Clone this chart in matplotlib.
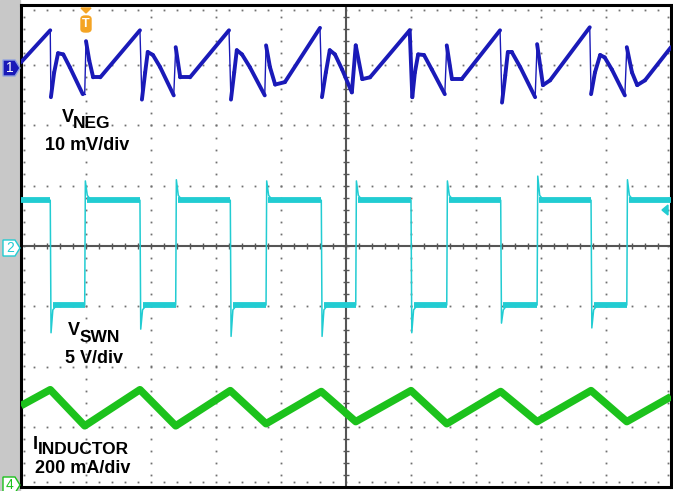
import numpy as np
import matplotlib
matplotlib.use("Agg")
import matplotlib.pyplot as plt
from matplotlib.collections import LineCollection
from matplotlib.patches import Polygon, Rectangle, FancyBboxPatch

# --- scope screen: time in divisions (10 across), 8 divisions vertical ---

# V_SWN switching edges (div)
FALL_T = [0.45, 1.83, 3.22, 4.62, 6.00, 7.38, 8.77]
RISE_T = [0.98, 2.38, 3.77, 5.15, 6.55, 7.94, 9.32]

# V_SWN levels (V), 5 V/div, ground marker at 0 div
SW_HIGH = 3.8
SW_LOW = -4.9
SW_OVER = [5.4, 5.5, 5.4, 5.4, 5.4, 5.8, 5.5]
SW_UNDER = [-7.2, -6.9, -7.5, -7.5, -7.2, -6.4, -6.8]

# inductor current (mA), 200 mA/div, ground marker at -4 div
IL_START = 270
IL_END = 300
IL_PEAK = [323, 323, 320, 317, 320, 317, 320]
IL_TROUGH = [203, 203, 210, 217, 210, 217, 217]

# V_NEG ripple (mV), 10 mV/div, ground marker at +3 div
VNEG_T = [0.00, 0.45, 0.46, 0.51, 0.57, 0.65, 0.75, 0.95, 0.98, 1.00, 1.05, 1.11, 1.22, 1.83,
          1.86, 1.91, 1.95, 2.03, 2.14, 2.35, 2.38, 2.45, 2.60, 3.20,
          3.23, 3.28, 3.32, 3.40, 3.52, 3.75, 3.77, 3.83, 3.91, 4.06, 4.60,
          4.63, 4.69, 4.75, 4.83, 4.94, 5.09, 5.15, 5.25, 5.37, 5.98,
          6.02, 6.06, 6.11, 6.20, 6.32, 6.52, 6.55, 6.63, 6.78, 7.37,
          7.40, 7.45, 7.49, 7.55, 7.68, 7.91, 7.94, 8.03, 8.14, 8.75,
          8.77, 8.83, 8.91, 8.98, 9.09, 9.29, 9.32, 9.40, 9.48, 9.60, 10.00]
VNEG_MV = [0.5, 5.8, -5.3, -1.2, 2.0, 1.8, -0.3, -4.8, -4.8, 4.0, 0.8, -2.0, -2.0, 5.8,
           -5.7, -1.2, 2.2, 1.7, -0.3, -5.0, 3.0, -2.0, -2.0, 5.8,
           -5.7, -1.2, 2.5, 1.8, -0.3, -5.0, 3.3, -0.3, -3.2, -2.8, 6.2,
           -5.3, -1.2, 2.5, 1.8, -0.7, -4.5, 3.3, -2.3, -2.0, 5.8,
           -5.3, -1.2, 1.8, 1.7, -0.7, -4.8, 3.3, -2.3, -2.3, 5.8,
           -6.2, -1.7, 2.2, 2.2, -0.3, -5.3, 3.5, -3.3, -2.5, 6.3,
           -4.8, -1.2, 1.7, 1.3, -0.7, -5.0, 3.0, -1.2, -3.3, -2.5, 3.0]

CH1_POS, CH2_POS, CH4_POS = 3.0, 0.0, -4.0

BLUE = "#1a1ab8"
CYAN = "#22ccd2"
GREEN = "#1cc21c"

W, H = 673, 491


def fx(x):
    return x / W


def fy(y):
    return 1 - y / H


def trace(ax, t, y, color, thick, thin, fast=0.035):
    pts = np.column_stack([t, y])
    segs = np.stack([pts[:-1], pts[1:]], axis=1)
    widths = [thick if (b[0] - a[0]) >= fast else thin for a, b in segs]
    lc = LineCollection(segs, colors=color, linewidths=widths, capstyle="round",
                        joinstyle="round", zorder=4)
    ax.add_collection(lc)


fig = plt.figure(figsize=(6.73, 4.91), dpi=100)
fig.patch.set_facecolor("white")
fig.add_artist(Rectangle((0, 0), fx(20), 1, transform=fig.transFigure,
                         color="#c8c8c8", zorder=0))

ax = fig.add_axes([fx(21), fy(487), 650 / W, 482 / H])
ax.set_xlim(0, 10)
ax.set_ylim(-4, 4)
ax.set_xticks([])
ax.set_yticks([])
for s in ax.spines.values():
    s.set_linewidth(2.2)
    s.set_color("black")

# dotted graticule
xs = np.arange(0, 10.001, 0.2)
ys = np.arange(-4, 4.001, 0.2)
for gx in range(1, 10):
    if gx != 5:
        ax.plot(np.full(len(ys), gx), ys, ls="none", marker="s", ms=1.3, mew=0, color="#707070")
for gy in range(-3, 4):
    if gy != 0:
        ax.plot(xs, np.full(len(xs), gy), ls="none", marker="s", ms=1.3, mew=0, color="#707070")
# border ticks
ax.plot(np.full(len(ys), 0.05), ys, ls="none", marker="s", ms=1.3, mew=0, color="#707070")
ax.plot(np.full(len(ys), 9.95), ys, ls="none", marker="s", ms=1.3, mew=0, color="#707070")
ax.plot(xs, np.full(len(xs), 3.92), ls="none", marker="s", ms=1.3, mew=0, color="#707070")
ax.plot(xs, np.full(len(xs), -3.92), ls="none", marker="s", ms=1.3, mew=0, color="#707070")
# center cross
ax.axvline(5, color="#555555", lw=1.5, zorder=2)
ax.axhline(0, color="#555555", lw=1.5, zorder=2)
ax.plot(np.full(len(ys), 5), ys, ls="none", marker="_", ms=4, mew=1, color="#555555")
ax.plot(xs, np.zeros(len(xs)), ls="none", marker="|", ms=5, mew=1, color="#555555")

# channel 1: V_NEG
trace(ax, VNEG_T, CH1_POS + np.array(VNEG_MV) / 10.0, BLUE, 2.8, 1.0)

# channel 2: V_SWN
sw_t, sw_v = [0.0], [SW_HIGH]
for i in range(len(FALL_T)):
    tf, tr = FALL_T[i], RISE_T[i]
    sw_t += [tf, tf + 0.012, tf + 0.04, tf + 0.1, tr, tr + 0.01, tr + 0.04, tr + 0.1]
    sw_v += [SW_HIGH, SW_UNDER[i], SW_LOW - 0.4, SW_LOW, SW_LOW, SW_OVER[i], SW_HIGH + 0.4, SW_HIGH]
sw_t.append(10.0)
sw_v.append(SW_HIGH)
sw_t = np.array(sw_t)
sw_y = CH2_POS + np.array(sw_v) / 5.0
ax.plot(sw_t, sw_y, color=CYAN, lw=1.1, zorder=4)
starts = [0.0] + [r + 0.03 for r in RISE_T]
ends = FALL_T + [10.0]
ax.hlines([CH2_POS + SW_HIGH / 5.0] * len(starts), starts, ends, color=CYAN, lw=4.2, zorder=4)
ax.hlines([CH2_POS + SW_LOW / 5.0] * len(FALL_T), [f + 0.04 for f in FALL_T], RISE_T,
          color=CYAN, lw=4.2, zorder=4)

# channel 4: inductor current
il_t = [0.0]
il_v = [IL_START]
for i in range(len(FALL_T)):
    il_t += [FALL_T[i], RISE_T[i]]
    il_v += [IL_PEAK[i], IL_TROUGH[i]]
il_t.append(10.0)
il_v.append(IL_END)
ax.plot(il_t, CH4_POS + np.array(il_v) / 200.0, color=GREEN, lw=5.4,
        solid_joinstyle="round", solid_capstyle="butt", zorder=4)

# labels
font = dict(family="Liberation Sans", fontweight="bold", color="black")
fig.text(fx(62), fy(122), "V", fontsize=13, va="baseline", **font)
fig.text(fx(73), fy(128), "NEG", fontsize=12.5, va="baseline", **font)
fig.text(fx(45), fy(150), "10 mV/div", fontsize=13, va="baseline", **font)
fig.text(fx(68), fy(335), "V", fontsize=13, va="baseline", **font)
fig.text(fx(80), fy(342), "SWN", fontsize=12.5, va="baseline", **font)
fig.text(fx(65), fy(363), "5 V/div", fontsize=13, va="baseline", **font)
fig.text(fx(33), fy(449), "I", fontsize=13, va="baseline", **font)
fig.text(fx(38), fy(454), "INDUCTOR", fontsize=12.5, va="baseline", **font)
fig.text(fx(35), fy(473), "200 mA/div", fontsize=13, va="baseline", **font)


# channel ground markers on the left
def marker(yc, face, edge, label, txt):
    pts = [(fx(3), fy(yc - 8)), (fx(15), fy(yc - 8)), (fx(20), fy(yc)),
           (fx(15), fy(yc + 8)), (fx(3), fy(yc + 8))]
    fig.add_artist(Polygon(pts, closed=True, transform=fig.transFigure,
                           facecolor=face, edgecolor=edge, lw=1.0, zorder=5))
    fig.text(fx(10), fy(yc), label, color=txt, fontsize=10, family="Liberation Sans",
             ha="center", va="center", zorder=6)


marker(68, BLUE, "#8fa0e0", "1", "white")
marker(248, "white", CYAN, "2", CYAN)
marker(485, "white", GREEN, "4", GREEN)

# trigger position marker
ORANGE = "#f4a424"
fig.add_artist(Polygon([(fx(81), fy(8)), (fx(91), fy(8)), (fx(86), fy(13))], closed=True,
                       transform=fig.transFigure, color=ORANGE, zorder=6))
fig.add_artist(FancyBboxPatch((fx(81), fy(32)), fx(10), 16 / H,
                              boxstyle="round,pad=0,rounding_size=0.006",
                              transform=fig.transFigure, color=ORANGE, zorder=6))
fig.text(fx(86), fy(24), "T", color="white", fontsize=9, fontweight="bold",
         family="Liberation Sans", ha="center", va="center", zorder=7)

# trigger level marker on the right
fig.add_artist(Polygon([(fx(662), fy(210)), (fx(668), fy(205)), (fx(668), fy(215))],
                       closed=True, transform=fig.transFigure, color=CYAN, zorder=6))

fig.savefig("out.png", dpi=100)
